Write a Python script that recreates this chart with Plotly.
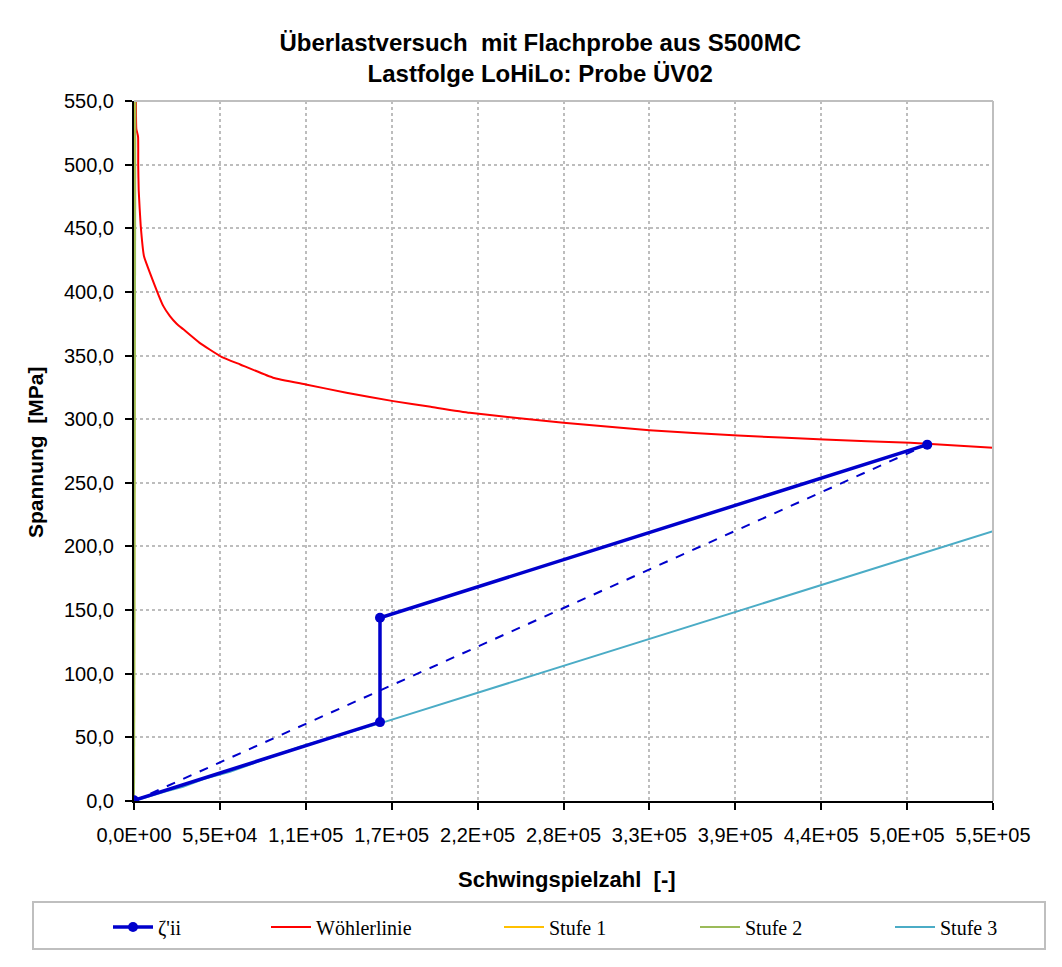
import plotly.graph_objects as go

# ---------------- data ----------------
N_zeta = [0, 157500, 157500, 507900]
S_zeta = [0.5, 62, 144, 280]

N_dash = [0, 507900]
S_dash = [0, 280]

N_woehler = [1300, 1500, 2600, 2700, 3000, 4300, 6400, 10200, 18700, 23000, 27300, 31600,
             42000, 56000, 68000, 89000, 110000, 136000, 166000, 190000, 215000, 275000,
             330000, 386600, 441800, 497000, 550000]
S_woehler = [600, 528, 522, 500, 480, 452, 428, 415, 389, 381, 375, 370.6,
             360, 349, 343, 332.6, 327.3, 320.8, 314.2, 309.7, 305, 297.2,
             291.4, 287.2, 284, 281.4, 277.5]

N_stufe1 = [0, 1000]
S_stufe1 = [0, 1000]
N_stufe2 = [0, 1600]
S_stufe2 = [0, 1000]
N_stufe3 = [0, 10000, 20000, 31400, 45000, 61500, 80000, 106300, 157500, 550000]
S_stufe3 = [0, 4, 7.5, 11.2, 17.5, 23, 31, 42.7, 61, 212]

x_tickvals = [0, 55000, 110000, 165000, 220000, 275000, 330000, 385000, 440000, 495000, 550000]
x_ticktext = ["0,0E+00", "5,5E+04", "1,1E+05", "1,7E+05", "2,2E+05", "2,8E+05",
              "3,3E+05", "3,9E+05", "4,4E+05", "5,0E+05", "5,5E+05"]

names = ["ζ'ii", "Wöhlerlinie", "Stufe 1", "Stufe 2", "Stufe 3"]

BLUE = "#0000CC"
RED = "#FF0000"
YEL = "#FFC000"
GRN = "#9BBB59"
TEAL = "#4BACC6"

# page offset (browser body margin) and plot-area geometry
OFF = 8
W, H = 1062 - OFF, 967 - OFF
L = 134 - OFF
T = 101 - OFF
PW, PH = 859, 700
R = W - L - PW
B = H - T - PH


def px(x):
    """page x pixel -> paper coordinate"""
    return (x - 134) / PW


def py(y):
    """page y pixel -> paper coordinate"""
    return (801 - y) / PH


fig = go.Figure()

fig.add_trace(go.Scatter(x=N_woehler, y=S_woehler, mode="lines", name=names[1],
                         line=dict(color=RED, width=2, shape="spline", smoothing=0.4),
                         legend="legend2"))
fig.add_trace(go.Scatter(x=N_stufe1, y=S_stufe1, mode="lines", name=names[2],
                         line=dict(color=YEL, width=2), legend="legend3"))
fig.add_trace(go.Scatter(x=N_stufe2, y=S_stufe2, mode="lines", name=names[3],
                         line=dict(color=GRN, width=2), legend="legend4"))
fig.add_trace(go.Scatter(x=N_stufe3, y=S_stufe3, mode="lines", name=names[4],
                         line=dict(color=TEAL, width=2), legend="legend5"))
fig.add_trace(go.Scatter(x=N_dash, y=S_dash, mode="lines", showlegend=False,
                         line=dict(color=BLUE, width=2, dash="dash")))
fig.add_trace(go.Scatter(x=N_zeta, y=S_zeta, mode="lines+markers", name=names[0],
                         line=dict(color=BLUE, width=3.5),
                         marker=dict(color=BLUE, size=10), legend="legend"))

legend_font = dict(family="Liberation Serif", size=20, color="black")
leg_y = py(927)
legend_x = [108, 266, 499, 695, 890]


def leg(xpx):
    return dict(x=px(xpx), y=leg_y, xanchor="left", yanchor="middle",
                orientation="h", bgcolor="rgba(0,0,0,0)", borderwidth=0,
                font=legend_font, itemwidth=40)


tick_font = dict(family="Liberation Sans", size=20, color="black")
axis_title_font = dict(family="Liberation Sans", size=22, color="black", weight="bold")

fig.update_layout(
    width=W, height=H,
    margin=dict(l=L, r=R, t=T, b=B),
    paper_bgcolor="white", plot_bgcolor="white",
    separators=",.",
    title=dict(text="Überlastversuch\u00a0 mit Flachprobe aus S500MC<br>Lastfolge LoHiLo: Probe ÜV02",
               font=dict(family="Liberation Sans", size=24, color="black", weight="bold"),
               x=0.505, xanchor="center", xref="container",
               y=1 - 43 / H, yanchor="top", yref="container"),
    legend=leg(legend_x[0]),
    legend2=leg(legend_x[1]),
    legend3=leg(legend_x[2]),
    legend4=leg(legend_x[3]),
    legend5=leg(legend_x[4]),
    xaxis=dict(range=[0, 550000], tickvals=x_tickvals, ticktext=x_ticktext,
               showgrid=True, gridcolor="#BDBDBD", griddash="dot", gridwidth=1.5,
               showline=True, linecolor="black", linewidth=2,
               ticks="outside", ticklen=7, tickwidth=2, tickcolor="black",
               ticklabelstandoff=8, tickfont=tick_font, zeroline=False),
    yaxis=dict(range=[0, 550], dtick=50, tickformat=".1f",
               showgrid=True, gridcolor="#BDBDBD", griddash="dot", gridwidth=1.5,
               showline=True, linecolor="black", linewidth=2,
               ticks="outside", ticklen=7, tickwidth=2, tickcolor="black",
               ticklabelstandoff=7, tickfont=tick_font, zeroline=False),
    annotations=[
        dict(text="Schwingspielzahl\u00a0 [-]", xref="paper", yref="paper",
             x=px(567), y=py(880), xanchor="center", yanchor="middle", showarrow=False,
             font=axis_title_font),
        dict(text="Spannung\u00a0 [MPa]", xref="paper", yref="paper",
             x=px(35), y=py(452), xanchor="center", yanchor="middle", showarrow=False,
             textangle=-90,
             font=dict(family="Liberation Sans", size=21, color="black", weight="bold")),
    ],
    shapes=[
        # plot area border (top / right)
        dict(type="line", xref="paper", yref="paper", x0=0, x1=1, y0=1, y1=1,
             line=dict(color="#BFBFBF", width=2)),
        dict(type="line", xref="paper", yref="paper", x0=1, x1=1, y0=0, y1=1,
             line=dict(color="#BFBFBF", width=2)),
        # legend box
        dict(type="rect", xref="paper", yref="paper", x0=px(33), x1=px(1045),
             y0=py(902), y1=py(949), line=dict(color="#BFBFBF", width=2)),
        # outer chart border (left / top)
        dict(type="line", xref="paper", yref="paper", x0=px(7), x1=px(7),
             y0=py(7), y1=py(975), line=dict(color="#BFBFBF", width=2)),
        dict(type="line", xref="paper", yref="paper", x0=px(7), x1=px(1070),
             y0=py(7), y1=py(7), line=dict(color="#BFBFBF", width=2)),
    ],
)

fig.write_html("out.html")
